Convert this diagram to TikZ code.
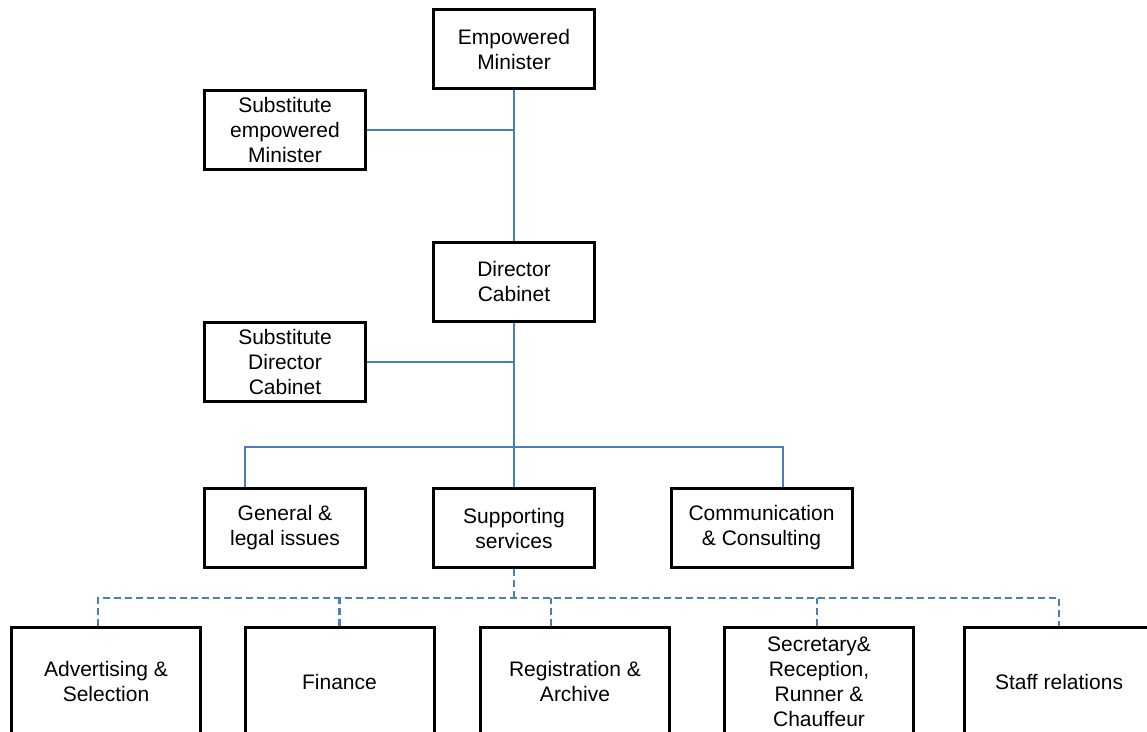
\documentclass[tikz,border=0pt]{standalone}
\usepackage{fontspec}
\setmainfont{Liberation Sans}
\usepackage{xcolor}
\usepackage{tikz}
\usetikzlibrary{positioning, arrows.meta}
\definecolor{linkblue}{RGB}{74,126,187}

\begin{document}
\begin{tikzpicture}[
    x=1pt, y=-1pt,
    every node/.style={
        draw,
        line width=3pt,
        align=center,
        font=\fontsize{21}{25}\selectfont,
        fill=white,
        inner sep=0pt,
        minimum width=161pt,
        minimum height=79pt
    },
    wide/.style={minimum width=189pt, minimum height=108pt},
    link/.style={draw=linkblue, line width=2.2pt},
    dlink/.style={link, dash pattern=on 7pt off 4pt}
]
\useasboundingbox (0,0) rectangle (1147,731);

\node (minister) at (514,49) {Empowered\\Minister};
\node (subminister) at (285,130) {Substitute\\empowered\\Minister};
\node (director) at (514,281.5) {Director\\Cabinet};
\node (subdirector) at (285,362) {Substitute\\Director\\Cabinet};

\node (general) at (285,528) {General \&\\legal issues};
\node (support) at (514,528) {Supporting\\services};
\node (comm) at (761.5,528) [minimum width=181pt] {Communication\\\& Consulting};

\node (adv) at (106,681.5) [wide] {Advertising \&\\Selection};
\node (finance) at (339.5,681.5) [wide] {Finance};
\node (regist) at (575,681.5) [wide] {Registration \&\\Archive};
\node (secretary) at (819,681.5) [wide] {Secretary\&\\Reception,\\Runner \&\\Chauffeur};
\node (staff) at (1059,681.5) [wide] {Staff relations};

\coordinate (bus) at (514,447);
\coordinate (dbus) at (514,598);

\draw[link] (minister) -- (director);
\draw[link] (subminister) -- (subminister -| minister);
\draw[link] (director) -- (support);
\draw[link] (subdirector) -- (subdirector -| director);
\draw[link] ([xshift=-40pt]general.north) |- (bus) -| ([xshift=21.5pt]comm.north);

\draw[dlink] (support) -- (dbus);
\draw[dlink] ([xshift=-8pt]adv.north) |- (dbus) -| (staff.north);
\foreach \n/\s in {finance/0, regist/-24, secretary/-2}
    \draw[dlink] ([xshift=\s pt]\n.north) -- ([xshift=\s pt]\n.north |- dbus);

\end{tikzpicture}
\end{document}
